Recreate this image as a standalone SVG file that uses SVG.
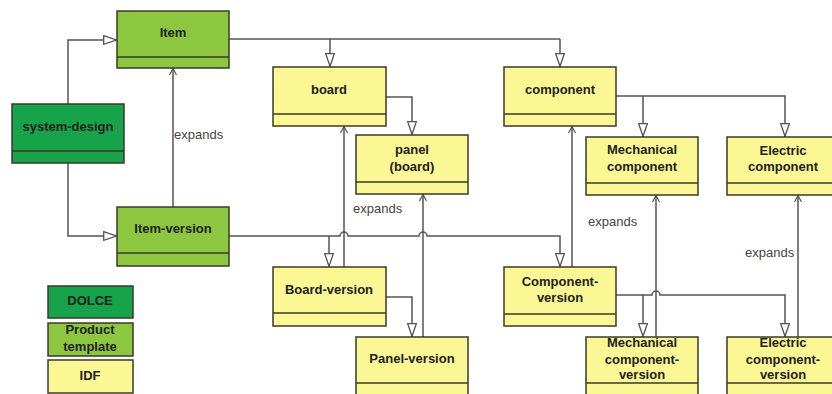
<svg xmlns="http://www.w3.org/2000/svg" width="832" height="394" viewBox="0 0 832 394">
<style>
.box{stroke:#3a3a2a;stroke-width:1.5}
.dk{fill:#17a349}
.lg{fill:#8dc63f}
.ye{fill:#fbf795}
.div{stroke:#3a3a2a;stroke-width:1.5;fill:none}
.t{font-family:"Liberation Sans",Arial,sans-serif;font-size:13px;font-weight:bold;fill:#222;text-anchor:middle}
.lbl{font-family:"Liberation Sans",Arial,sans-serif;font-size:13px;fill:#444}
.c{fill:none;stroke:#555;stroke-width:1.5}
.g{marker-end:url(#tri)}
.e{marker-end:url(#open)}
</style>
<defs>
<marker id="tri" viewBox="0 0 14 10" refX="14" refY="5" markerWidth="14" markerHeight="10" orient="auto" markerUnits="userSpaceOnUse">
<path d="M0.7,0.7 L13.3,5 L0.7,9.3 Z" fill="#fff" stroke="#555" stroke-width="1.3"/>
</marker>
<marker id="open" viewBox="0 0 10 8" refX="10" refY="4" markerWidth="10" markerHeight="8" orient="auto" markerUnits="userSpaceOnUse">
<path d="M3,0.5 L9.5,4 L3,7.5" fill="none" stroke="#555" stroke-width="1.2"/>
</marker>
</defs>
<rect width="832" height="394" fill="#fff"/>

<g id="connectors">
<path class="c g" d="M68,104 V40 H117"/>
<path class="c g" d="M68,163 V236 H117"/>
<path class="c e" d="M173,207 V68"/>
<path class="c" d="M229,39 H560"/>
<path class="c g" d="M330,39 V67"/>
<path class="c g" d="M560,39 V67"/>
<path class="c g" d="M386,97 H412 V135"/>
<path class="c g" d="M229,236 H340 a4,4 0 0 1 8,0 H419 a4,4 0 0 1 8,0 H560 V267"/>
<path class="c g" d="M329,236 V267"/>
<path class="c e" d="M344,277 V126"/>
<path class="c e" d="M423,346 V194"/>
<path class="c g" d="M386,297 H412 V337"/>
<path class="c g" d="M616,96 H785 V137"/>
<path class="c g" d="M643,96 V137"/>
<path class="c e" d="M572,277 V126"/>
<path class="c g" d="M616,295 H652 a4,4 0 0 1 8,0 H785 V337"/>
<path class="c g" d="M643,295 V337"/>
<path class="c e" d="M656,347 V195"/>
<path class="c e" d="M798,338 V195"/>
<text class="lbl" x="174" y="139">expands</text>
<text class="lbl" x="353" y="213">expands</text>
<text class="lbl" x="588" y="226">expands</text>
<text class="lbl" x="745" y="257">expands</text>
</g>

<g id="item">
<rect class="box lg" x="117" y="11" width="112" height="57"/>
<line class="div" x1="117" y1="57" x2="229" y2="57"/>
<text class="t" x="173" y="37">Item</text>
</g>
<g id="system-design">
<rect class="box dk" x="12" y="104" width="112" height="59"/>
<line class="div" x1="12" y1="151" x2="124" y2="151"/>
<text class="t" x="68" y="131">system-design</text>
</g>
<g id="item-version">
<rect class="box lg" x="117" y="207" width="112" height="59"/>
<line class="div" x1="117" y1="253" x2="229" y2="253"/>
<text class="t" x="173" y="233">Item-version</text>
</g>
<g id="board">
<rect class="box ye" x="273" y="67" width="113" height="59"/>
<line class="div" x1="273" y1="114" x2="386" y2="114"/>
<text class="t" x="329" y="94">board</text>
</g>
<g id="panel">
<rect class="box ye" x="356" y="135" width="112" height="59"/>
<line class="div" x1="356" y1="182" x2="468" y2="182"/>
<text class="t" x="412" y="154">panel</text>
<text class="t" x="412" y="171">(board)</text>
</g>
<g id="board-version">
<rect class="box ye" x="273" y="267" width="113" height="59"/>
<line class="div" x1="273" y1="313" x2="386" y2="313"/>
<text class="t" x="329" y="294">Board-version</text>
</g>
<g id="panel-version">
<rect class="box ye" x="356" y="337" width="112" height="59"/>
<line class="div" x1="356" y1="383" x2="468" y2="383"/>
<text class="t" x="412" y="363">Panel-version</text>
</g>
<g id="component">
<rect class="box ye" x="504" y="67" width="112" height="59"/>
<line class="div" x1="504" y1="114" x2="616" y2="114"/>
<text class="t" x="560" y="94">component</text>
</g>
<g id="mechanical-component">
<rect class="box ye" x="586" y="137" width="112" height="58"/>
<line class="div" x1="586" y1="183" x2="698" y2="183"/>
<text class="t" x="642" y="154">Mechanical</text>
<text class="t" x="642" y="171">component</text>
</g>
<g id="electric-component">
<rect class="box ye" x="727" y="137" width="112" height="58"/>
<line class="div" x1="727" y1="183" x2="839" y2="183"/>
<text class="t" x="783" y="155">Electric</text>
<text class="t" x="783" y="171">component</text>
</g>
<g id="component-version">
<rect class="box ye" x="504" y="267" width="112" height="59"/>
<line class="div" x1="504" y1="314" x2="616" y2="314"/>
<text class="t" x="560" y="286">Component-</text>
<text class="t" x="560" y="302">version</text>
</g>
<g id="mechanical-component-version">
<rect class="box ye" x="586" y="337" width="112" height="59"/>
<line class="div" x1="586" y1="383" x2="698" y2="383"/>
<text class="t" x="642" y="347">Mechanical</text>
<text class="t" x="642" y="364">component-</text>
<text class="t" x="642" y="379">version</text>
</g>
<g id="electric-component-version">
<rect class="box ye" x="727" y="337" width="112" height="59"/>
<line class="div" x1="727" y1="383" x2="839" y2="383"/>
<text class="t" x="783" y="347">Electric</text>
<text class="t" x="783" y="364">component-</text>
<text class="t" x="783" y="379">version</text>
</g>
<g id="legend-dolce">
<rect class="box dk" x="48" y="286" width="85" height="32"/>
<text class="t" x="90" y="305">DOLCE</text>
</g>
<g id="legend-product-template">
<rect class="box lg" x="48" y="323" width="85" height="33"/>
<text class="t" x="90" y="334">Product</text>
<text class="t" x="90" y="351">template</text>
</g>
<g id="legend-idf">
<rect class="box ye" x="48" y="360" width="85" height="33"/>
<text class="t" x="90" y="380">IDF</text>
</g>
</svg>
